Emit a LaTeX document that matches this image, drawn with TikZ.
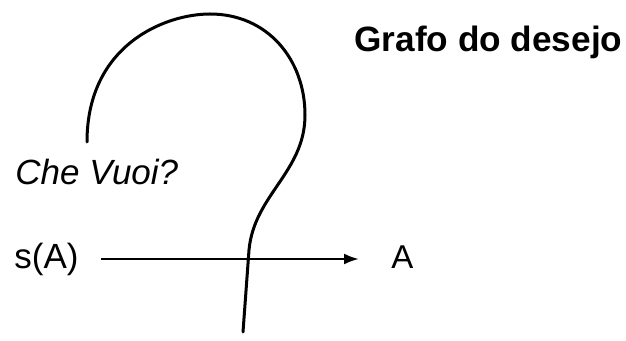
\documentclass[tikz,border=0pt]{standalone}
\usepackage{fontspec}
\setmainfont{Liberation Sans}
\usetikzlibrary{arrows.meta,positioning}

\begin{document}
\begin{tikzpicture}[
    x=0.5pt, y=-0.5pt,
    >={Latex[length=7.5pt,width=5.5pt]},
    label/.style={inner sep=0pt, anchor=base west, font=\fontsize{17.5}{20}\selectfont},
    heading/.style={inner sep=0pt, anchor=base west, font=\fontsize{17.6}{20}\selectfont\bfseries},
    vector/.style={line width=1.2pt},
    hook/.style={line width=1.5pt, line cap=round}
]

\useasboundingbox (0,0) rectangle (626,341);

% Labels
\node[heading] (title) at (354,52) {Grafo do desejo};
\node[label, font=\fontsize{17.5}{20}\selectfont\itshape] (chevuoi) at (15,185) {Che Vuoi?};
\node[label] (sA) at (14,269) {s(A)};
\node[label, font=\fontsize{16.5}{18}\selectfont] (A) at (391,269) {A};

% Question-mark curve
\coordinate (start) at (87,142);
\coordinate (peak) at (210,14);
\coordinate (bulge) at (305,115);
\coordinate (cross) at (249,250);
\coordinate (foot) at (243,332);

% Flows
\draw[vector, ->] ([xshift=11pt]sA.east |- 0,259) -- ([xshift=-16pt]A.west |- 0,259);
\draw[hook] (start) .. controls (87,45) and (165,14) .. (peak)
    .. controls (268,14) and (305,60) .. (bulge)
    .. controls (305,172) and (254,195) .. (cross) -- (foot);

\end{tikzpicture}
\end{document}
